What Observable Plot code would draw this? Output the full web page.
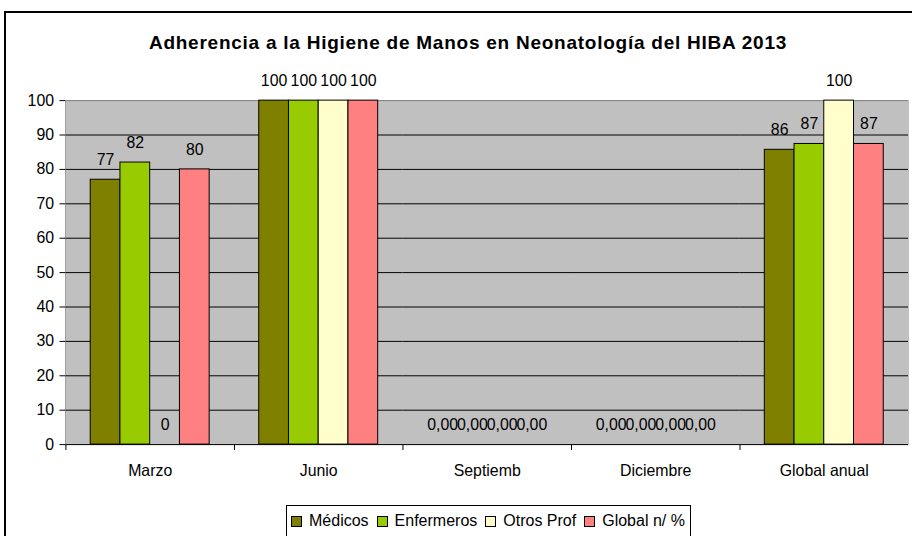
<!DOCTYPE html>
<html>
<head>
<meta charset="utf-8">
<script src="https://cdn.jsdelivr.net/npm/d3@7"></script>
<script src="https://cdn.jsdelivr.net/npm/@observablehq/plot@0.6"></script>
<style>
  html, body { margin: 0; padding: 0; background: #fff; }
  #wrap { position: relative; width: 912px; height: 536px; overflow: hidden;
          font-family: "Liberation Sans", Arial, sans-serif; color: #000; }
  #border { position: absolute; left: 4px; top: 11px; width: 1000px; height: 1000px;
            border: 2px solid #000; }
  #title { position: absolute; left: 0; width: 936px; top: 34px; text-align: center;
           font-weight: bold; font-size: 19px; line-height: 18px; letter-spacing: 0.75px;
           white-space: nowrap; }
  #chart { position: absolute; left: 0; top: 0; }
  #legend { position: absolute; left: 286px; top: 505px; width: 399px;
            border: 1px solid #000; background: #fff; padding: 7px 0 30px 4px;
            display: flex; align-items: center; height: 16px;
            font-size: 16px; line-height: 16px; white-space: nowrap; }
  .sw { width: 9px; height: 9px; border: 1px solid #000; margin-right: 7px; flex: none; }
  .it { display: flex; align-items: center; margin-right: 8px; }
</style>
</head>
<body>
<div id="wrap">
  <div id="border"></div>
  <div id="title"></div>
  <div id="chart"></div>
  <div id="legend"></div>
</div>
<script>
const titleText = "Adherencia a la Higiene de Manos en Neonatología del HIBA 2013";
const categories = ["Marzo", "Junio", "Septiemb", "Diciembre", "Global anual"];
const series = ["Médicos", "Enfermeros", "Otros Prof", "Global n/ %"];
const colors = ["#808000", "#99CC00", "#FFFFCC", "#FF8080"];

const medicos    = [77, 100, 0, 0, 85.7];
const enfermeros = [82, 100, 0, 0, 87.4];
const otrosProf  = [0, 100, 0, 0, 100];
const globalPct  = [80, 100, 0, 0, 87.4];

const medicosLabels    = ["77", "100", "0,00", "0,00", "86"];
const enfermerosLabels = ["82", "100", "0,00", "0,00", "87"];
const otrosProfLabels  = ["0", "100", "0,00", "0,00", "100"];
const globalPctLabels  = ["80", "100", "0,00", "0,00", "87"];

const yTicks = [0, 10, 20, 30, 40, 50, 60, 70, 80, 90, 100];

const valueSets = [medicos, enfermeros, otrosProf, globalPct];
const labelSets = [medicosLabels, enfermerosLabels, otrosProfLabels, globalPctLabels];
const rows = [];
categories.forEach((cat, i) => {
  series.forEach((s, j) => {
    rows.push({cat, series: s, value: valueSets[j][i], label: labelSets[j][i]});
  });
});

document.getElementById("title").textContent = titleText;

const W = 920, H = 536, mT = 101, mB = 88, mL = 66, mR = 4;
const font = "'Liberation Sans', Arial, sans-serif";

const chart = Plot.plot({
  width: W, height: H,
  marginTop: mT, marginBottom: mB, marginLeft: mL, marginRight: mR,
  style: {fontFamily: font, fontSize: "16px", color: "#000", background: "transparent", overflow: "visible"},
  fx: {domain: categories, padding: 0, label: null, tickSize: 0, tickPadding: 20, axis: "bottom"},
  x: {domain: series, paddingInner: 0, paddingOuter: 0.787, axis: null},
  y: {domain: [0, 100], ticks: yTicks, tickSize: 6, tickPadding: 6, label: null, line: true, tickFormat: d => String(d)},
  color: {domain: series, range: colors},
  marks: [
    Plot.frame({fill: "#c0c0c0", stroke: "#c0c0c0"}),
    Plot.ruleY(yTicks.slice(1, -1), {stroke: "#000"}),
    Plot.ruleY([100], {stroke: "#808080"}),
    Plot.barY(rows, {fx: "cat", x: "series", y: "value", fill: "series", stroke: "#000", strokeWidth: 1}),
    Plot.ruleY([0], {stroke: "#000"}),
    Plot.frame({anchor: "left", stroke: "#000", insetTop: H - mT - mB, insetBottom: -5}),
    Plot.text(rows, {fx: "cat", x: "series", y: "value", text: "label", dy: -20, fontSize: 16, fill: "#000"})
  ]
});
document.getElementById("chart").appendChild(chart);

const legend = document.getElementById("legend");
series.forEach((s, j) => {
  const it = document.createElement("div");
  it.className = "it";
  const sw = document.createElement("div");
  sw.className = "sw";
  sw.style.background = colors[j];
  const tx = document.createElement("span");
  tx.textContent = s;
  it.appendChild(sw);
  it.appendChild(tx);
  legend.appendChild(it);
});
</script>
</body>
</html>
